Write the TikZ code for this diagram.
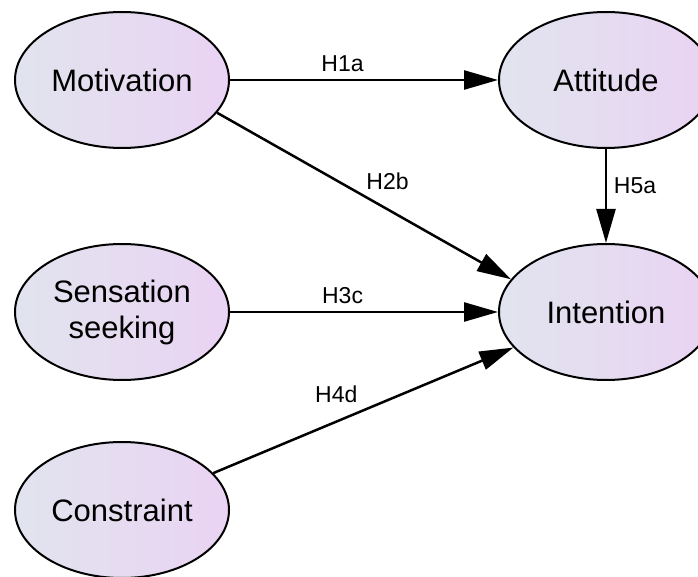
\documentclass[tikz,border=0pt]{standalone}
\usepackage{fontspec}
\setmainfont{Liberation Sans}
\usetikzlibrary{shapes.geometric, arrows.meta, positioning}
\definecolor{latleft}{HTML}{E1E4EE}
\definecolor{latright}{HTML}{EAD3F3}

\begin{document}
\begin{tikzpicture}[
    x=0.5pt, y=-0.5pt,
    construct/.style={ellipse, draw=black, line width=1pt, left color=latleft, right color=latright, minimum width=107pt, minimum height=68pt, inner sep=0pt, align=center, font=\fontsize{15.5}{18}\selectfont},
    hyp/.style={font=\fontsize{11.5}{13}\selectfont},
    path/.style={-{Triangle[length=17pt, width=9.5pt]}, line width=1.25pt}
]
\useasboundingbox (0,0) rectangle (698,577);

% Left column
\node[construct] at (122,80) (mot) {Motivation};
\node[construct, below=47pt of mot] (sens) {Sensation\\seeking};
\node[construct, below=30pt of sens] (con) {Constraint};

% Right column
\node[construct, right=134pt of mot] (att) {Attitude};
\node[construct, below=47pt of att] (int) {Intention};

% Paths
\draw[path] (mot) -- node[hyp, pos=0.42, above] {H1a} (att);
\draw[path] (mot.-19) -- node[hyp, pos=0.58, above=6pt] {H2b} (int.161);
\draw[path] (sens) -- node[hyp, pos=0.42, above] {H3c} (int);
\draw[path] (con.22) -- node[hyp, pos=0.41, above=5.5pt] {H4d} (int.-159);
\draw[path] (att) -- node[hyp, pos=0.39, right] {H5a} (int);
\end{tikzpicture}
\end{document}
